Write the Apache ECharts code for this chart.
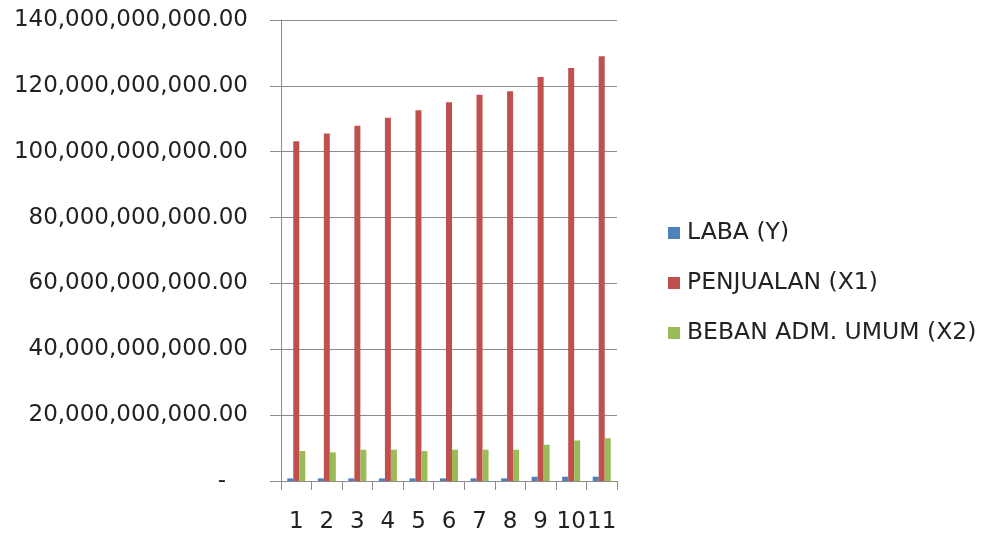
<!DOCTYPE html>
<html>
<head>
<meta charset="utf-8">
<script src="https://cdn.jsdelivr.net/npm/echarts@6/dist/echarts.min.js"></script>
<style>
  html, body { margin: 0; padding: 0; background: #fff; }
  #chart { width: 992px; height: 535px; }
</style>
</head>
<body>
<div id="chart"></div>
<script>
/* data */
var categories = ['1', '2', '3', '4', '5', '6', '7', '8', '9', '10', '11'];
var seriesNames = ['LABA (Y)', 'PENJUALAN (X1)', 'BEBAN ADM. UMUM (X2)'];
var laba = [800000000, 800000000, 800000000, 800000000, 800000000, 800000000, 800000000, 800000000, 1300000000, 1300000000, 1300000000];
var penjualan = [103200000000, 105500000000, 107900000000, 110300000000, 112600000000, 115000000000, 117300000000, 118400000000, 122700000000, 125400000000, 129000000000];
var beban = [9100000000, 8700000000, 9500000000, 9500000000, 9100000000, 9500000000, 9500000000, 9500000000, 11000000000, 12300000000, 13000000000];
var yTicks = { min: 0, max: 140000000000, interval: 20000000000 };
var colors = ['#4F81BD', '#C0504D', '#9BBB59'];

var fontName = 'DejaVu Sans';

var fmtMoney = function (v) {
    if (v === 0) return '-   ';
    var s = v.toFixed(2);
    var parts = s.split('.');
    return parts[0].replace(/\B(?=(\d{3})+(?!\d))/g, ',') + '.' + parts[1];
};

var mkBar = function (name, data, color) {
    return {
        name: name,
        type: 'bar',
        barWidth: 6,
        barGap: '0%',
        itemStyle: { color: color },
        data: data
    };
};

var option = {
    animation: false,
    color: colors,
    textStyle: { fontFamily: fontName },
    grid: {
        left: 281,
        right: 375,
        top: 20,
        bottom: 54
    },
    legend: {
        orient: 'vertical',
        left: 663,
        top: 216,
        itemWidth: 12,
        itemHeight: 12,
        itemGap: 26,
        icon: 'rect',
        textStyle: {
            fontFamily: fontName,
            fontSize: 23.5,
            color: '#222',
            lineHeight: 24,
            padding: [0, 0, 0, 2]
        },
        data: seriesNames
    },
    xAxis: {
        type: 'category',
        data: categories,
        axisLine: { lineStyle: { color: '#8c8c8c', width: 1 } },
        axisTick: { show: true, length: 9, lineStyle: { color: '#8c8c8c' } },
        axisLabel: {
            fontFamily: fontName,
            fontSize: 23,
            color: '#222',
            margin: 30,
            interval: 0
        },
        splitLine: { show: false }
    },
    yAxis: {
        type: 'value',
        min: yTicks.min,
        max: yTicks.max,
        interval: yTicks.interval,
        axisLine: { show: true, lineStyle: { color: '#8c8c8c', width: 1 } },
        axisTick: { show: true, length: 11, lineStyle: { color: '#8c8c8c' } },
        axisLabel: {
            fontFamily: fontName,
            fontSize: 23,
            color: '#222',
            margin: 33,
            formatter: fmtMoney
        },
        splitLine: { show: true, lineStyle: { color: '#8c8c8c', width: 1 } }
    },
    series: [
        mkBar(seriesNames[0], laba, colors[0]),
        mkBar(seriesNames[1], penjualan, colors[1]),
        mkBar(seriesNames[2], beban, colors[2])
    ]
};

var myChart = echarts.init(document.getElementById('chart'));
myChart.setOption(option);
</script>
</body>
</html>
